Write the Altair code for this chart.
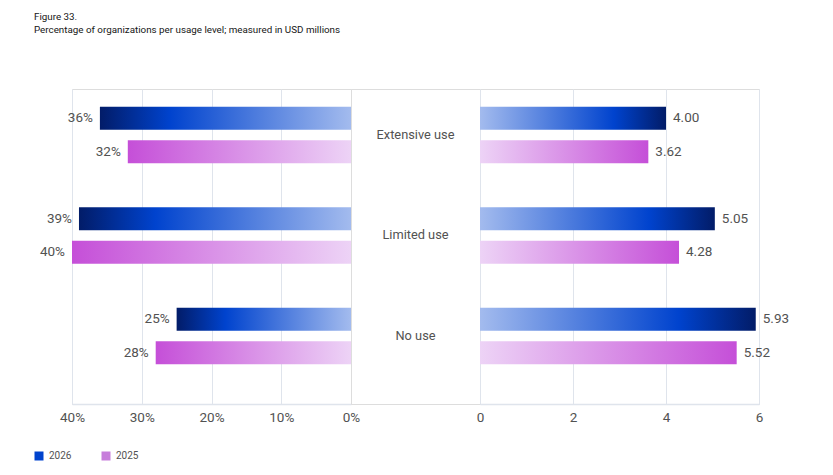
import altair as alt
import pandas as pd

categories = ["Extensive use", "Limited use", "No use"]
years = ["2026", "2025"]
pct_2026 = [0.36, 0.39, 0.25]
pct_2025 = [0.32, 0.40, 0.28]
usd_2026 = [4.00, 5.05, 5.93]
usd_2025 = [3.62, 4.28, 5.52]
pct_ticks = [0, 0.1, 0.2, 0.3, 0.4]
usd_ticks = [0, 2, 4, 6]

rows = []
for i, c in enumerate(categories):
    rows.append({"category": c, "year": "2026", "pct": pct_2026[i], "usd": usd_2026[i]})
    rows.append({"category": c, "year": "2025", "pct": pct_2025[i], "usd": usd_2025[i]})
df = pd.DataFrame(rows)

FONT = "Roboto"
GREY = "#525252"
GRID = "#dfe4ec"

def grad(stops):
    return alt.Gradient(
        gradient="linear", x1=0, x2=1, y1=0, y2=0,
        stops=[alt.GradientStop(offset=o, color=c) for o, c in stops],
    )

blue_left = grad([(0, "#021c68"), (0.28, "#0043ce"), (1, "#a3bbee")])
pink_left = grad([(0, "#c54fd8"), (1, "#edd3f6")])
blue_right = grad([(0, "#a3bbee"), (0.72, "#0043ce"), (1, "#021c68")])
pink_right = grad([(0, "#edd3f6"), (1, "#c54fd8")])

W, H, MID = 279, 315, 129
NUM_FS = 13.5

y_enc = alt.Y(
    "category:N",
    sort=categories,
    scale=alt.Scale(domain=categories, paddingInner=0.4, paddingOuter=0.267, align=0.295),
    axis=None,
)
yoff_enc = alt.YOffset(
    "year:N",
    sort=years,
    scale=alt.Scale(domain=years, paddingInner=0.3134, paddingOuter=0.0567),
)

def axis(values, fmt):
    return alt.Axis(values=values, format=fmt, title=None, labelFontSize=NUM_FS,
                    labelColor=GREY, labelFont=FONT, labelPadding=6, labelFlush=False,
                    ticks=False, grid=True, gridColor=GRID, domainColor=GRID, domainWidth=1.5)

base = alt.Chart(df)

# Left panel: percentages
x_left = alt.X("pct:Q", scale=alt.Scale(domain=[0, 0.4], reverse=True), axis=axis(pct_ticks, ".0%"))

# zero-width bars that only carry the colour legend
left_legend = base.transform_calculate(zero="0").mark_bar().encode(
    x=alt.X("zero:Q", scale=alt.Scale(domain=[0, 0.4], reverse=True)),
    y=y_enc, yOffset=yoff_enc,
    color=alt.Color(
        "year:N",
        scale=alt.Scale(domain=years, range=["#0043ce", "#c77ddb"]),
        legend=alt.Legend(
            title=None, orient="none", legendX=-38, legendY=362,
            direction="horizontal", symbolType="square", symbolSize=81,
            symbolStrokeWidth=0, labelFontSize=10, labelColor=GREY,
            labelFont=FONT, columnPadding=29, labelOffset=5,
        ),
    ),
)
left_blue = base.transform_filter(alt.datum.year == "2026").mark_bar(color=blue_left).encode(
    x=x_left, y=y_enc, yOffset=yoff_enc)
left_pink = base.transform_filter(alt.datum.year == "2025").mark_bar(color=pink_left).encode(
    x=x_left, y=y_enc, yOffset=yoff_enc)
left_text = base.mark_text(align="right", baseline="middle", dx=-7, fontSize=NUM_FS,
                           color=GREY, font=FONT).encode(
    x=x_left, y=y_enc, yOffset=yoff_enc, text=alt.Text("pct:Q", format=".0%"))
left = alt.layer(left_blue, left_pink, left_legend, left_text).properties(width=W, height=H)

# Middle panel: category labels
middle = base.transform_filter(alt.datum.year == "2026").mark_text(
    fontSize=12.8, color=GREY, font=FONT, baseline="middle").encode(
    x=alt.value(MID / 2), y=y_enc, text="category:N"
).properties(width=MID, height=H)

# Right panel: USD millions
x_right = alt.X("usd:Q", scale=alt.Scale(domain=[0, 6]), axis=axis(usd_ticks, "d"))
right_blue = base.transform_filter(alt.datum.year == "2026").mark_bar(color=blue_right).encode(
    x=x_right, y=y_enc, yOffset=yoff_enc)
right_pink = base.transform_filter(alt.datum.year == "2025").mark_bar(color=pink_right).encode(
    x=x_right, y=y_enc, yOffset=yoff_enc)
right_text = base.mark_text(align="left", baseline="middle", dx=7, fontSize=NUM_FS,
                            color=GREY, font=FONT).encode(
    x=x_right, y=y_enc, yOffset=yoff_enc, text=alt.Text("usd:Q", format=".2f"))
right = alt.layer(right_blue, right_pink, right_text).properties(width=W, height=H)

chart = alt.hconcat(left, middle, right, spacing=0, bounds="flush").properties(
    title=alt.TitleParams(
        ["Figure 33.", "Percentage of organizations per usage level; measured in USD millions"],
        anchor="start", fontSize=9.8, fontWeight="normal", color="#161616",
        font=FONT, lineHeight=13, offset=54,
    ),
    padding={"left": 26, "top": 3, "right": 10, "bottom": 5},
).resolve_scale(y="shared").configure_view(strokeWidth=0).configure(background="white")

chart.save("out.html", embed_options={"renderer": "svg", "actions": False})
